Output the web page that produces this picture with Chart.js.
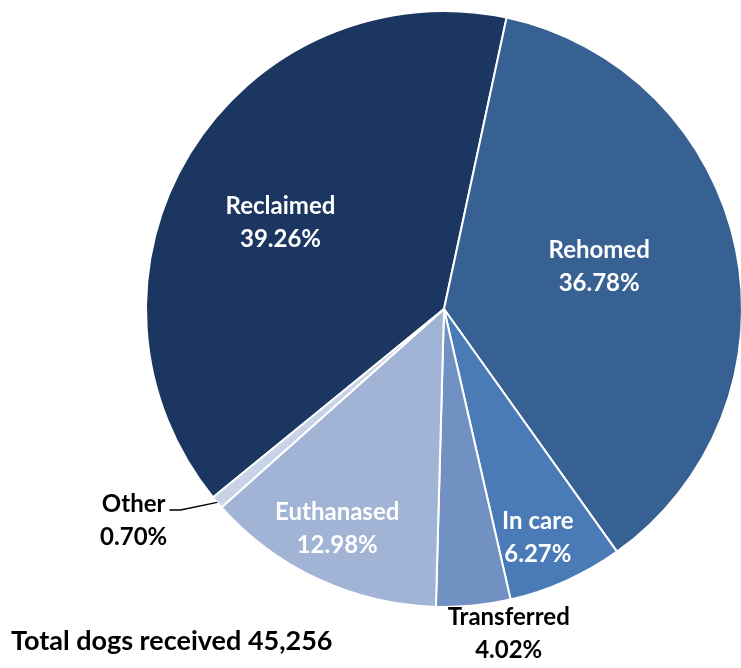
<!DOCTYPE html>
<html>
<head>
<meta charset="utf-8">
<script src="https://cdn.jsdelivr.net/npm/chart.js@4/dist/chart.umd.min.js"></script>
<style>
    html, body { margin: 0; padding: 0; background: #ffffff; overflow: hidden; }
    #wrap { width: 760px; height: 668px; }
</style>
</head>
<body>
<div id="wrap"><canvas id="dogs-pie" width="760" height="668"></canvas></div>
<script>
const categories = ['Reclaimed', 'Rehomed', 'In care', 'Transferred', 'Euthanased', 'Other'];
const shares = [39.26, 36.78, 6.27, 4.02, 12.98, 0.70];
const totalDogs = '45,256';

const sliceColors = ['#1b3660', '#386193', '#4a7bb6', '#7191c2', '#a1b4d5', '#c8d3e8'];
// where each label sits: fraction of radius, angle nudge in degrees, text colour
const labelPlacement = [
    {r: 0.62, da: -3.7, color: '#ffffff'},
    {r: 0.54, da: -3.7, color: '#ffffff'},
    {r: 0.83, da: 1.9, color: '#ffffff'},
    {r: 1.11, da: -5.6, color: '#000000'},
    {r: 0.82, da: 1.0, color: '#ffffff'},
    {r: 1.26, da: 6.2, color: '#000000', leader: true}
];

const labelFont = 'bold 24px Lato, "Open Sans", sans-serif';
const totalFont = 'bold 27px Lato, "Open Sans", sans-serif';
const lineGap = 33;

const sliceLabels = {
    id: 'sliceLabels',
    afterDatasetsDraw(chart) {
        const ctx = chart.ctx;
        const arcs = chart.getDatasetMeta(0).data;
        ctx.save();
        ctx.font = labelFont;
        ctx.textAlign = 'center';
        ctx.textBaseline = 'middle';
        arcs.forEach((arc, i) => {
            const p = labelPlacement[i];
            const mid = (arc.startAngle + arc.endAngle) / 2;
            const a = mid + p.da * Math.PI / 180;
            const x = arc.x + Math.cos(a) * arc.outerRadius * p.r;
            const y = arc.y + Math.sin(a) * arc.outerRadius * p.r;
            const lines = [categories[i], shares[i].toFixed(2) + '%'];
            ctx.fillStyle = p.color;
            ctx.fillText(lines[0], x, y - lineGap / 2);
            ctx.fillText(lines[1], x, y + lineGap / 2);

            if (p.leader) {
                const w = ctx.measureText(lines[0]).width;
                const sx = x + w / 2 + 4;
                const sy = y - lineGap / 2 + 6;
                const ex = arc.x + Math.cos(mid) * arc.outerRadius;
                const ey = arc.y + Math.sin(mid) * arc.outerRadius;
                ctx.strokeStyle = '#000000';
                ctx.lineWidth = 1.5;
                ctx.beginPath();
                ctx.moveTo(sx, sy);
                ctx.lineTo(sx + 11, sy);
                ctx.lineTo(ex, ey);
                ctx.stroke();
            }
        });

        ctx.font = totalFont;
        ctx.fillStyle = '#000000';
        ctx.textAlign = 'left';
        ctx.fillText('Total dogs received ' + totalDogs, 11, 641);
        ctx.restore();
    }
};

const canvas = document.getElementById('dogs-pie');

new Chart(canvas, {
    type: 'pie',
    data: {
        labels: categories,
        datasets: [{
            data: shares,
            backgroundColor: sliceColors,
            borderColor: '#ffffff',
            borderWidth: 2
        }]
    },
    options: {
        responsive: false,
        animation: false,
        events: [],
        rotation: -129.2,
        layout: {
            padding: {top: 10, bottom: 60, left: 145, right: 17}
        },
        plugins: {
            legend: {display: false},
            tooltip: {enabled: false},
            title: {display: false}
        }
    },
    plugins: [sliceLabels]
});
</script>
</body>
</html>
